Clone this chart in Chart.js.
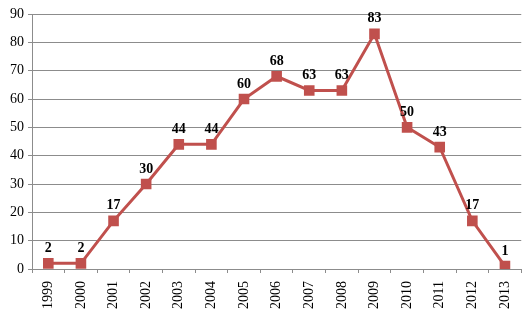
<!DOCTYPE html>
<html>
<head>
<meta charset="utf-8">
<script src="https://cdn.jsdelivr.net/npm/chart.js@4/dist/chart.umd.min.js"></script>
<style>
  html, body { margin: 0; padding: 0; background: #fff; }
  #wrap { width: 530px; height: 325px; }
</style>
</head>
<body>
<div id="wrap"><canvas id="grafico" width="530" height="325"></canvas></div>
<script>
// años y valores de la serie
const anios = ['1999', '2000', '2001', '2002', '2003', '2004', '2005', '2006',
  '2007', '2008', '2009', '2010', '2011', '2012', '2013'];
const valores = [2, 2, 17, 30, 44, 44, 60, 68, 63, 63, 83, 50, 43, 17, 1];
const ticksY = [0, 10, 20, 30, 40, 50, 60, 70, 80, 90];

const rojo = '#C0504D';
const gris = '#8C8C8C';
const fuente = "'Liberation Serif', 'Times New Roman', serif";

// etiquetas de valor encima de cada punto
const etiquetas = {
  id: 'etiquetas',
  afterDatasetsDraw(chart) {
    const ctx = chart.ctx;
    const meta = chart.getDatasetMeta(0);
    ctx.save();
    ctx.font = 'bold 14px ' + fuente;
    ctx.fillStyle = '#000';
    ctx.textAlign = 'center';
    ctx.textBaseline = 'middle';
    meta.data.forEach((p, i) => {
      ctx.fillText(String(valores[i]), p.x, p.y - 15);
    });
    ctx.restore();
  }
};

new Chart(document.getElementById('grafico'), {
  type: 'line',
  data: {
    labels: anios,
    datasets: [{
      data: valores,
      borderColor: rojo,
      borderWidth: 3,
      backgroundColor: rojo,
      pointStyle: 'rect',
      pointRadius: 7.5,
      pointBorderWidth: 0,
      pointBackgroundColor: rojo,
      tension: 0
    }]
  },
  options: {
    responsive: false,
    animation: false,
    layout: { padding: { top: 14, right: 7, left: 0, bottom: 0 } },
    plugins: { legend: { display: false }, tooltip: { enabled: false } },
    scales: {
      x: {
        offset: true,
        grid: { offset: true, drawOnChartArea: false, color: gris, tickLength: 4, lineWidth: 1 },
        border: { color: gris, width: 1 },
        ticks: {
          minRotation: 90, maxRotation: 90,
          color: '#000',
          font: { family: fuente, size: 14 },
          padding: 8
        },
        afterFit(s) { s.height = 56; }
      },
      y: {
        min: 0, max: 90,
        afterBuildTicks(s) { s.ticks = ticksY.map(v => ({ value: v })); },
        grid: { color: gris, lineWidth: 1, tickLength: 4 },
        border: { color: gris, width: 1 },
        ticks: {
          color: '#000',
          font: { family: fuente, size: 14 },
          padding: 4
        },
        afterFit(s) { s.width = 32; }
      }
    }
  },
  plugins: [etiquetas]
});
</script>
</body>
</html>
